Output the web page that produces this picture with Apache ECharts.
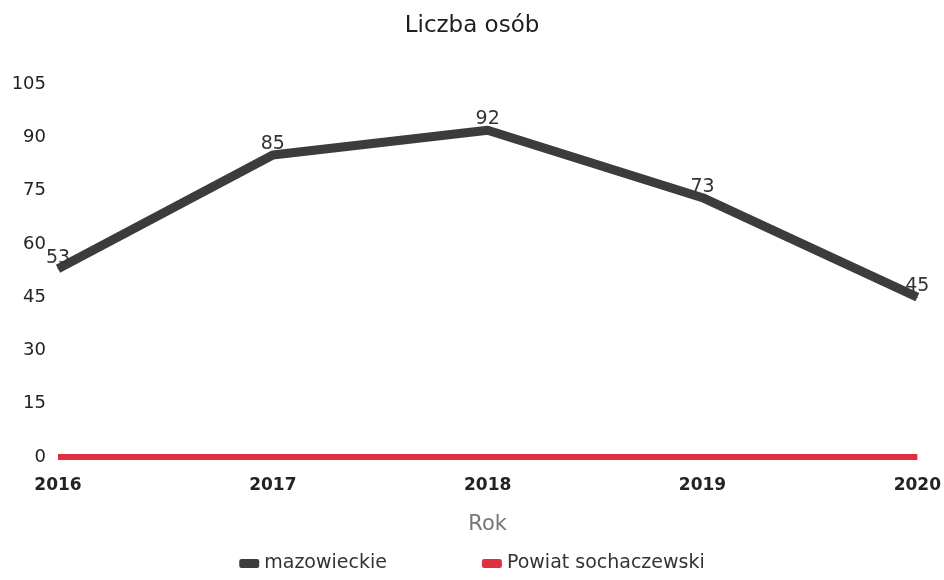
<!DOCTYPE html>
<html><head><meta charset="utf-8">
<script src="https://cdn.jsdelivr.net/npm/echarts@6/dist/echarts.min.js"></script>
<style>html,body{margin:0;padding:0;background:#fff}#c{width:944px;height:580px}</style>
</head><body><div id="c"></div>
<script>
const categories = ['2016', '2017', '2018', '2019', '2020'];
const mazowieckie = [53, 85, 92, 73, 45];
const powiat = [0, 0, 0, 0, 0];
const yTicks = { min: 0, max: 105, interval: 15 };

const F = 'DejaVu Sans';
const chart = echarts.init(document.getElementById('c'));
chart.setOption({
  animation: false,
  textStyle: { fontFamily: F },
  title: { text: 'Liczba osób', left: 'center', top: 10,
    textStyle: { fontSize: 23, fontWeight: 'normal', color: '#1e1e1e', fontFamily: F } },
  grid: { left: 58, right: 26, top: 84, bottom: 123, containLabel: false },
  legend: { bottom: 2, left: 'center', itemGap: 95, itemWidth: 20, itemHeight: 9,
    icon: 'roundRect',
    textStyle: { fontSize: 19, color: '#333', fontFamily: F },
    data: ['mazowieckie', 'Powiat sochaczewski'] },
  xAxis: { type: 'category', data: categories, boundaryGap: false,
    name: 'Rok', nameLocation: 'middle', nameGap: 57,
    nameTextStyle: { fontSize: 21, color: '#777', fontFamily: F },
    axisLine: { show: false }, axisTick: { show: false },
    axisLabel: { fontSize: 17, color: '#222', fontWeight: 'bold', margin: 20, fontFamily: F } },
  yAxis: { type: 'value', min: yTicks.min, max: yTicks.max, interval: yTicks.interval,
    axisLine: { show: false }, axisTick: { show: false }, splitLine: { show: false },
    axisLabel: { fontSize: 18, color: '#222', margin: 12, fontFamily: F } },
  series: [
    { name: 'mazowieckie', type: 'line', data: mazowieckie, symbol: 'circle', symbolSize: 1,
      lineStyle: { width: 9, color: '#3c3c3c' }, itemStyle: { color: '#3c3c3c' },
      label: { show: true, position: 'top', fontSize: 19, color: '#333', distance: 1, fontFamily: F }, z: 3 },
    { name: 'Powiat sochaczewski', type: 'line', data: powiat, symbol: 'none',
      lineStyle: { width: 6, color: '#e0303f' }, itemStyle: { color: '#e0303f' }, z: 2 }
  ]
});
</script></body></html>
